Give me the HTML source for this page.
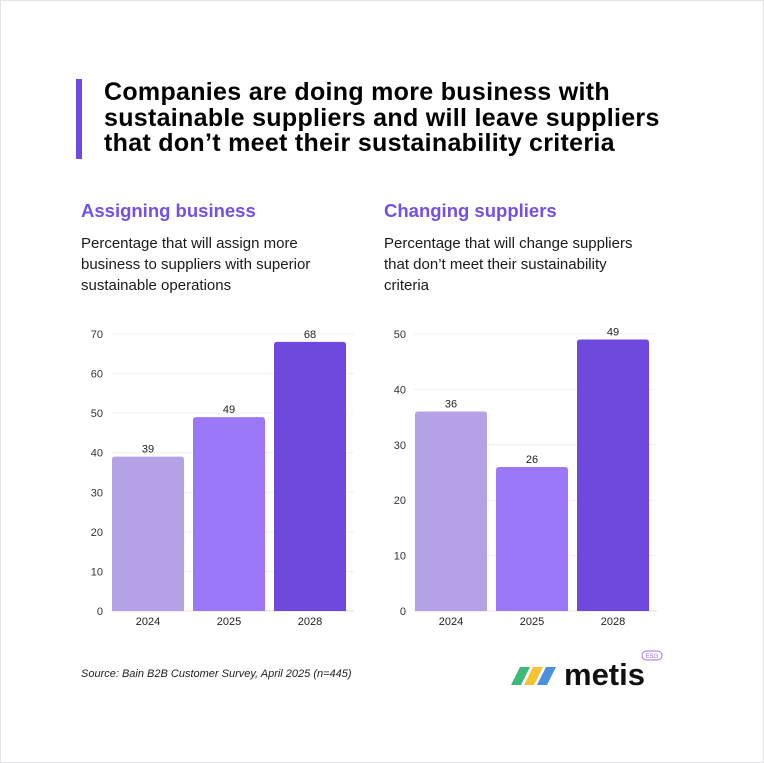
<!DOCTYPE html>
<html><head><meta charset="utf-8"><style>
body{margin:0;background:#fff;font-family:"Liberation Sans",sans-serif;}
#card{position:absolute;left:0;top:0;width:762px;height:761px;border:1px solid #e4e4e8;background:#fff;overflow:hidden}
.t{position:absolute;white-space:nowrap}
</style></head><body>
<div id="card">
<div class="t" style="left:75px;top:78px;width:6px;height:80px;background:#6f4ae0"></div>
<div class="t" style="left:103px;top:79px;font-size:25px;font-weight:bold;line-height:25.5px;color:#000;letter-spacing:0.3px">Companies are doing more business with<br>sustainable suppliers and will leave suppliers<br>that don’t meet their sustainability criteria</div>
<div class="t" style="left:80px;top:199px;font-size:18.5px;font-weight:bold;color:#7350e6">Assigning business</div>
<div class="t" style="left:80px;top:232px;font-size:15px;line-height:21px;color:#1a1a1a">Percentage that will assign more<br>business to suppliers with superior<br>sustainable operations</div>
<div class="t" style="left:383px;top:199px;font-size:18.5px;font-weight:bold;color:#7350e6">Changing suppliers</div>
<div class="t" style="left:383px;top:232px;font-size:15px;line-height:21px;color:#1a1a1a">Percentage that will change suppliers<br>that don’t meet their sustainability<br>criteria</div>
<svg id="chart" width="762" height="761" style="position:absolute;left:0;top:0"></svg>
<div class="t" style="left:80px;top:667px;font-size:11px;font-style:italic;color:#222">Source: Bain B2B Customer Survey, April 2025 (n=445)</div>
<div class="t" style="left:508px;top:648px;width:160px;height:40px">
<svg width="160" height="40" style="position:absolute;left:0;top:0">
<polygon points="2,36 12,36 21,18 11,18" fill="#3dba7a"/>
<polygon points="15,36 25,36 34,18 24,18" fill="#f5c232"/>
<polygon points="28,36 38,36 47,18 37,18" fill="#4a8fe0"/>
<text x="55" y="36" font-family="Liberation Sans, sans-serif" font-size="31" font-weight="bold" fill="#111">metis</text>
<rect x="133" y="2" width="20" height="9" rx="4.5" fill="none" stroke="#a36ee8" stroke-width="1"/>
<text x="143" y="9" text-anchor="middle" font-family="Liberation Sans, sans-serif" font-size="6" fill="#a36ee8">ESG</text>
</svg></div>
</div>
<script>
const categories=["2024","2025","2028"];
const leftValues=[39,49,68];
const rightValues=[36,26,49];
const leftTicks=[0,10,20,30,40,50,60,70];
const rightTicks=[0,10,20,30,40,50];
const colors=["#b5a2e6","#9b78f7","#6f48dd"];
const NS="http://www.w3.org/2000/svg";
const svg=document.getElementById('chart');
function mk(tag,attrs){const e=document.createElementNS(NS,tag);for(const k in attrs)e.setAttribute(k,attrs[k]);svg.appendChild(e);return e;}
function drawChart(prefix,x0,x1,maxV,ticks,vals){
  const y0=610,yTop=333;
  const y=v=>y0-(v/maxV)*(y0-yTop);
  ticks.forEach(t=>{
    const l=mk('line',{x1:x0,x2:x1,y1:y(t),y2:y(t),stroke:t===0?'#e2e2e2':'#f0f0f0','stroke-width':1});
    
    
    const tx=mk('text',{x:x0-8,y:y(t)+4,'text-anchor':'end','font-size':11,fill:'#333','font-family':'Liberation Sans, sans-serif'});
    tx.textContent=t;
    
    
  });
  const n=vals.length,band=(x1-x0)/n,gap=9,w=band-gap;
  vals.forEach((v,i)=>{
    const bx=x0+i*band+1;
    const r=mk('path',{d:`M${bx},${y0}V${y(v)+3}Q${bx},${y(v)} ${bx+3},${y(v)}H${bx+w-3}Q${bx+w},${y(v)} ${bx+w},${y(v)+3}V${y0}Z`,fill:colors[i]});
    
    
    const lb=mk('text',{x:bx+w/2,y:y(v)-4,'text-anchor':'middle','font-size':11,fill:'#222','font-family':'Liberation Sans, sans-serif'});
    lb.textContent=v;
    
    
    const cl=mk('text',{x:bx+w/2,y:y0+14,'text-anchor':'middle','font-size':11,fill:'#222','font-family':'Liberation Sans, sans-serif'});
    cl.textContent=categories[i];
    
    
  });
}
drawChart('left',110,353,70,leftTicks,leftValues);
drawChart('right',413,656,50,rightTicks,rightValues);
</script>
</body></html>
